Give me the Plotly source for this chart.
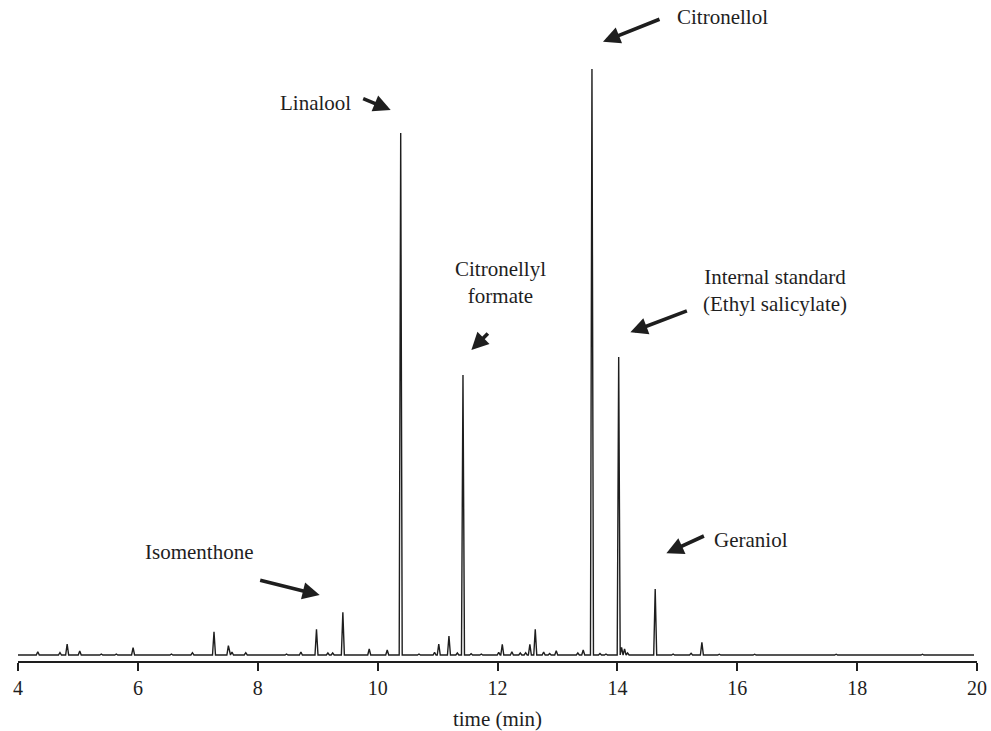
import plotly.graph_objects as go

# Retention times (min) and detector response (arbitrary units) of the peaks
peak_times = [
    4.33, 4.70, 4.82, 5.03, 5.39, 5.64, 5.92, 6.56, 6.91, 7.27, 7.51, 7.57,
    7.80, 8.48, 8.72, 8.98, 9.17, 9.25, 9.42, 9.86, 10.16, 10.385, 10.69,
    10.95, 11.02, 11.19, 11.33, 11.424, 11.56, 11.73, 12.02, 12.08, 12.24,
    12.38, 12.47, 12.54, 12.63, 12.77, 12.87, 12.98, 13.34, 13.43, 13.576,
    13.71, 13.81, 14.022, 14.07, 14.12, 14.17, 14.631, 14.93, 15.23, 15.41,
    15.70, 16.29, 17.65, 19.09,
]
peak_heights = [
    3.3, 2.5, 11, 4, 1, 1, 7.3, 1, 2.3, 23.3, 9.3, 3,
    2.3, 1, 3, 25.7, 2, 2, 42.7, 6, 5, 522, 1,
    2.7, 11, 19, 2, 280, 1.3, 1, 2.7, 10.7, 3.3,
    2, 2.3, 10.7, 25.7, 3, 1.5, 4.3, 2, 5, 586,
    1.5, 1, 298, 7.7, 6, 2, 66, 1, 1.7, 12.7,
    0.8, 0.8, 0.8, 0.8,
]
run_start, run_end = 4.0, 19.95
half_width = 0.025

tick_values = [4, 6, 8, 10, 12, 14, 16, 18, 20]

# Labelled compounds: text, label position, arrow head, arrow tail offset (px)
labels = [
    ("Linalool", 8.962, 551.7, 10.218, 545.0, -29, -12),
    ("Citronellol", 15.749, 638.3, 13.760, 613.3, 58, -23),
    ("Citronellyl<br>formate", 12.056, 372.5, 11.564, 305.0, 18, -18),
    ("Internal standard<br>(Ethyl salicylate)", 16.624, 365.0, 14.217, 322.7, 58, -22),
    ("Geraniol", 16.224, 115.0, 14.818, 101.7, 39, -18),
    ("Isomenthone", 7.020, 102.7, 9.033, 60.0, -61, -15),
]

# Build the chromatogram trace: baseline with a narrow spike per peak
xs, ys = [run_start], [0.0]
last_right = run_start
for t, h in sorted(zip(peak_times, peak_heights)):
    left = max(t - half_width, last_right)
    right = t + half_width
    xs += [left, t, right]
    ys += [0.0, h, 0.0]
    last_right = right
xs.append(run_end)
ys.append(0.0)

serif = "Liberation Serif, Times New Roman, serif"
ink = "#1e1e1e"

fig = go.Figure()
fig.add_trace(go.Scatter(
    x=xs, y=ys, mode="lines",
    line=dict(color=ink, width=1.4),
    hoverinfo="skip", showlegend=False,
))

annotations = []
for text, tx, ty, hx, hy, ax, ay in labels:
    annotations.append(dict(
        x=tx, y=ty, xref="x", yref="y", text=text, showarrow=False,
        font=dict(family=serif, size=21, color=ink),
        xanchor="center", yanchor="middle", align="center",
    ))
    annotations.append(dict(
        x=hx, y=hy, xref="x", yref="y", text="", showarrow=True,
        ax=ax, ay=ay, arrowhead=2, arrowsize=0.95, arrowwidth=3.6,
        arrowcolor=ink, standoff=0, startstandoff=0,
    ))

fig.update_layout(
    width=991, height=731,
    margin=dict(l=18, r=14, t=10, b=70, autoexpand=False),
    paper_bgcolor="white", plot_bgcolor="white",
    font=dict(family=serif, size=20, color=ink),
    annotations=annotations,
    xaxis=dict(
        range=[4, 20], tickvals=tick_values, automargin=False,
        ticks="outside", ticklen=8, tickwidth=1.5, tickcolor=ink,
        showline=True, linecolor=ink, linewidth=1.5,
        showgrid=False, zeroline=False,
        tickfont=dict(family=serif, size=20, color=ink),
        title=dict(text="time (min)", font=dict(family=serif, size=21, color=ink), standoff=14),
    ),
    yaxis=dict(visible=False, range=[-6, 645], showgrid=False, zeroline=False,
               automargin=False),
)

fig.write_html("out.html")
